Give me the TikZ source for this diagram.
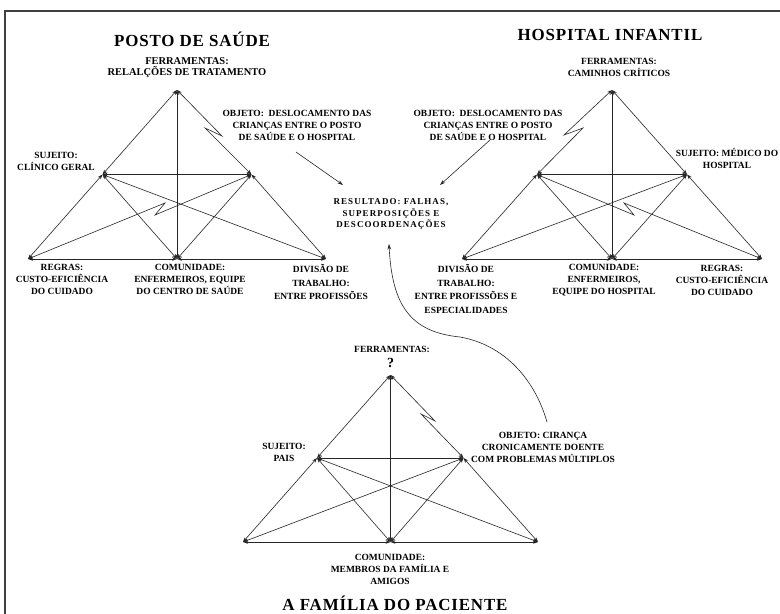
\documentclass[tikz,border=0pt]{standalone}
\usepackage{fontspec}
\setmainfont{Liberation Serif}
\newfontfamily\titlefont[LetterSpace=5]{Liberation Serif}
\newfontfamily\spacedfont[LetterSpace=12]{Liberation Serif}
\usetikzlibrary{arrows.meta}

\tikzset{
  link/.style={draw=black!85, line width=0.6pt, {Stealth[length=5pt,width=3.6pt]}-{Stealth[length=5pt,width=3.6pt]}},
  pointer/.style={draw=black!85, line width=0.6pt, -{Stealth[length=5.5pt,width=3.6pt]}},
  frameline/.style={draw=black!75, line width=1.2pt},
  lab/.style={font=\bfseries\fontsize{9.5}{12}\selectfont, align=center, inner sep=0pt},
  widelab/.style={font=\bfseries\fontsize{9.5}{13.5}\selectfont, align=center, inner sep=0pt},
  toollab/.style={font=\bfseries\fontsize{10.5}{11}\selectfont, align=center, inner sep=0pt},
  heading/.style={font=\titlefont\bfseries\fontsize{17}{20}\selectfont, inner sep=0pt},
  outcome/.style={font=\spacedfont\bfseries\fontsize{9}{11.5}\selectfont, align=center, inner sep=0pt},
}

\begin{document}
\begin{tikzpicture}[x=1bp, y=-1bp]
\useasboundingbox (0,0) rectangle (780,614);
\fill[white] (0,0) rectangle (780,614);

% outer frame
\coordinate (f1) at (5,614);
\coordinate (f2) at (5,11);
\coordinate (f3) at (780,11);
\draw[frameline] (f1) -- (f2) -- (f3);

% ---------- Posto de Saude ----------
\coordinate (LT)  at (177,90);
\coordinate (LML) at (102.5,174.5);
\coordinate (LMR) at (251.5,174.5);
\coordinate (LBL) at (28,259);
\coordinate (LBM) at (177,259);
\coordinate (LBR) at (326,259);
\coordinate (LzA) at (222,136);
\coordinate (LzB) at (205,128);
\coordinate (LzC) at (165,203);
\coordinate (LzD) at (155,215);

\foreach \a/\b in {T/ML, ML/BL, MR/BR, BL/BM, BM/BR, T/BM, ML/MR, ML/BM, ML/BR, MR/BM}
  \draw[link] (L\a) -- (L\b);
\draw[link] (LT) -- (LzA) -- (LzB) -- (LMR);
\draw[link] (LBL) -- (LzC) -- (LzD) -- (LMR);

\node[heading] (lTitle) at (192,39) {POSTO DE SAÚDE};
\node[toollab] (lTools) at (187,67.5) {FERRAMENTAS:\\RELALÇÕES DE TRATAMENTO};
\node[lab] (lObj) at (297,125) {OBJETO:~~DESLOCAMENTO DAS\\CRIANÇAS ENTRE O POSTO\\DE SAÚDE E O HOSPITAL};
\node[lab] (lSubj) at (56,161) {SUJEITO:\\CLÍNICO GERAL};
\node[lab] (lRules) at (62,279.5) {REGRAS:\\CUSTO-EFICIÊNCIA\\DO CUIDADO};
\node[lab] (lComm) at (190,279.5) {COMUNIDADE:\\ENFERMEIROS, EQUIPE\\DO CENTRO DE SAÚDE};
\node[widelab] (lDiv) at (321,282) {DIVISÃO DE\\TRABALHO:\\ENTRE PROFISSÕES};

% ---------- Hospital Infantil ----------
\coordinate (RT)  at (612,90);
\coordinate (RML) at (537,174.5);
\coordinate (RMR) at (687,174.5);
\coordinate (RBL) at (462,259);
\coordinate (RBM) at (612,259);
\coordinate (RBR) at (762,259);
\coordinate (RzA) at (564,135);
\coordinate (RzB) at (583,128);
\coordinate (RzC) at (624,203);
\coordinate (RzD) at (634,215);

\foreach \a/\b in {T/MR, ML/BL, MR/BR, BL/BM, BM/BR, T/BM, ML/MR, ML/BM, MR/BL, MR/BM}
  \draw[link] (R\a) -- (R\b);
\draw[link] (RT) -- (RzA) -- (RzB) -- (RML);
\draw[link] (RBR) -- (RzC) -- (RzD) -- (RML);

\node[heading] (rTitle) at (610,35) {HOSPITAL INFANTIL};
\node[lab] (rTools) at (619,67.5) {FERRAMENTAS:\\CAMINHOS CRÍTICOS};
\node[lab] (rObj) at (488,125) {OBJETO:~~DESLOCAMENTO DAS\\CRIANÇAS ENTRE O POSTO\\DE SAÚDE E O HOSPITAL};
\node[lab] (rSubj) at (727,158.5) {SUJEITO: MÉDICO DO\\HOSPITAL};
\node[widelab] (rDiv) at (466,289) {DIVISÃO DE\\TRABALHO:\\ENTRE PROFISSÕES E\\ESPECIALIDADES};
\node[lab] (rComm) at (604,280) {COMUNIDADE:\\ENFERMEIROS,\\EQUIPE DO HOSPITAL};
\node[lab] (rRules) at (722,280) {REGRAS:\\CUSTO-EFICIÊNCIA\\DO CUIDADO};

% ---------- Outcome ----------
\node[outcome] (res) at (391,214) {RESULTADO: FALHAS,\\SUPERPOSIÇÕES E\\DESCOORDENAÇÕES};
\coordinate (lp1) at (296,152);
\coordinate (lp2) at (343,185);
\coordinate (rp1) at (490,140);
\coordinate (rp2) at (440,185);
\draw[pointer] (lp1) -- (lp2);
\draw[pointer] (rp1) -- (rp2);

% ---------- Familia do paciente ----------
\coordinate (BT)  at (390.5,375);
\coordinate (BML) at (317,458);
\coordinate (BMR) at (463.5,458);
\coordinate (BBL) at (243,542);
\coordinate (BBM) at (390.5,542);
\coordinate (BBR) at (538,542);
\coordinate (BzA) at (435,421);
\coordinate (BzB) at (421,414);

\foreach \a/\b in {T/ML, ML/BL, MR/BR, BL/BM, BM/BR, T/BM, ML/MR, ML/BM, ML/BR, MR/BL, MR/BM}
  \draw[link] (B\a) -- (B\b);
\draw[link] (BT) -- (BzA) -- (BzB) -- (BMR);

\node[lab] (bTools) at (392,349) {FERRAMENTAS:};
\node[font=\bfseries\fontsize{14}{14}\selectfont, inner sep=0pt] (bQ) at (390.5,363) {?};
\node[lab] (bSubj) at (284,452) {SUJEITO:\\PAIS};
\node[lab] (bObj) at (543,447) {OBJETO: CIRANÇA\\CRONICAMENTE DOENTE\\COM PROBLEMAS MÚLTIPLOS};
\node[lab] (bComm) at (390,569) {COMUNIDADE:\\MEMBROS DA FAMÍLIA E\\AMIGOS};
\node[heading, anchor=base] (bTitle) at (395,610) {A FAMÍLIA DO PACIENTE};

% curved pointer from the family object to the outcome
\coordinate (cs) at (547,422);
\coordinate (cm) at (460,337);
\coordinate (ce) at (389,244);
\draw[pointer] (cs) .. controls (535,380) and (505,345) .. (cm)
               .. controls (410,332) and (392,305) .. (ce);
\end{tikzpicture}
\end{document}
